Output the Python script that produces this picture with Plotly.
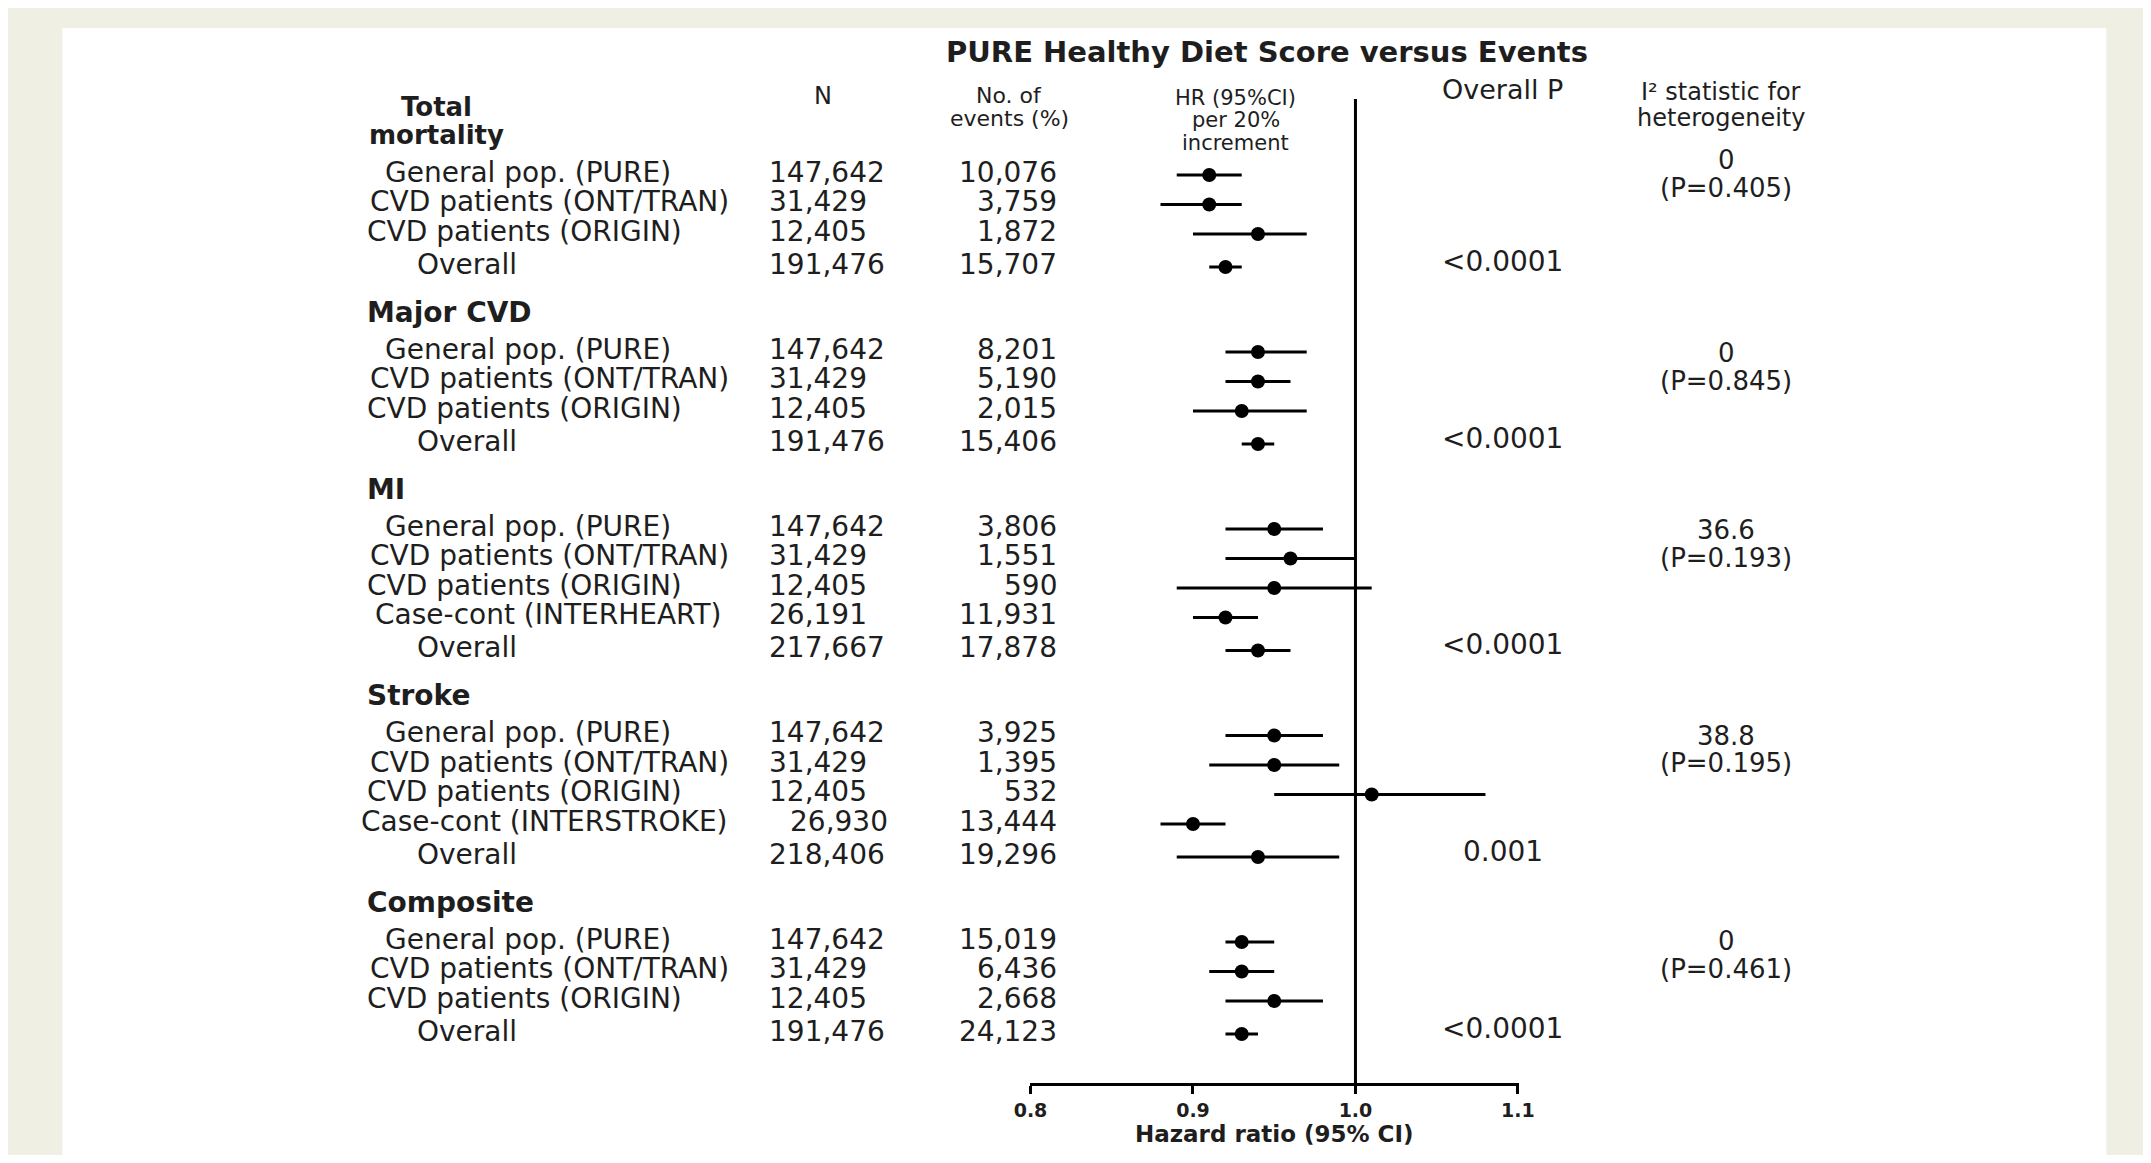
import plotly.graph_objects as go

# reference canvas size (page pixels)
W, H = 2151, 1163
# the html page keeps the browser's default 8px body margin, so the figure is
# sized to fit inside it and positions below are given in page pixels.
OFF = 8
FW, FH = W - 2 * OFF, H - 2 * OFF

# ---------------- data ----------------
outcomes = ["Total\nmortality", "Major CVD", "MI", "Stroke", "Composite"]
row_outcome = [0, 0, 0, 0,
               1, 1, 1, 1,
               2, 2, 2, 2, 2,
               3, 3, 3, 3, 3,
               4, 4, 4, 4]
row_labels = ["General pop. (PURE)", "CVD patients (ONT/TRAN)", "CVD patients (ORIGIN)", "Overall",
              "General pop. (PURE)", "CVD patients (ONT/TRAN)", "CVD patients (ORIGIN)", "Overall",
              "General pop. (PURE)", "CVD patients (ONT/TRAN)", "CVD patients (ORIGIN)", "Case-cont (INTERHEART)", "Overall",
              "General pop. (PURE)", "CVD patients (ONT/TRAN)", "CVD patients (ORIGIN)", "Case-cont (INTERSTROKE)", "Overall",
              "General pop. (PURE)", "CVD patients (ONT/TRAN)", "CVD patients (ORIGIN)", "Overall"]
n_values = ["147,642", "31,429", "12,405", "191,476",
            "147,642", "31,429", "12,405", "191,476",
            "147,642", "31,429", "12,405", "26,191", "217,667",
            "147,642", "31,429", "12,405", "26,930", "218,406",
            "147,642", "31,429", "12,405", "191,476"]
events = ["10,076", "3,759", "1,872", "15,707",
          "8,201", "5,190", "2,015", "15,406",
          "3,806", "1,551", "590", "11,931", "17,878",
          "3,925", "1,395", "532", "13,444", "19,296",
          "15,019", "6,436", "2,668", "24,123"]
hr = [0.91, 0.91, 0.94, 0.92,
      0.94, 0.94, 0.93, 0.94,
      0.95, 0.96, 0.95, 0.92, 0.94,
      0.95, 0.95, 1.01, 0.90, 0.94,
      0.93, 0.93, 0.95, 0.93]
ci_low = [0.89, 0.88, 0.90, 0.91,
          0.92, 0.92, 0.90, 0.93,
          0.92, 0.92, 0.89, 0.90, 0.92,
          0.92, 0.91, 0.95, 0.88, 0.89,
          0.92, 0.91, 0.92, 0.92]
ci_high = [0.93, 0.93, 0.97, 0.93,
           0.97, 0.96, 0.97, 0.95,
           0.98, 1.00, 1.01, 0.94, 0.96,
           0.98, 0.99, 1.08, 0.92, 0.99,
           0.95, 0.95, 0.98, 0.94]
overall_p = ["<0.0001", "<0.0001", "<0.0001", "0.001", "<0.0001"]
i2_values = ["0", "0", "36.6", "38.8", "0"]
i2_pvalues = ["(P=0.405)", "(P=0.845)", "(P=0.193)", "(P=0.195)", "(P=0.461)"]
x_ticks = [0.8, 0.9, 1.0, 1.1]
x_tick_labels = ["0.8", "0.9", "1.0", "1.1"]
title_text = "PURE Healthy Diet Score versus Events"
axis_title = "Hazard ratio (95% CI)"
col_n = ["N"]
col_events = ["No. of", "events (%)"]
col_hr = ["HR (95%CI)", "per 20%", "increment"]
col_p = ["Overall P"]
col_i2 = ["I² statistic for", "heterogeneity"]

# ---------------- layout (page pixel positions) ----------------
FONT = "DejaVu Sans"
TXT = "#1e1e1e"
BODY = 28

FIRST_ROW = 172
ROW_STEP = 29.5
OVERALL_STEP = 33
GROUP_GAP = 48
HEADER_TO_ROW = 37
DOT_DY = 3

row_y = []
header_y = []
y = FIRST_ROW
for i, oc in enumerate(row_outcome):
    if i == 0:
        header_y.append(FIRST_ROW - HEADER_TO_ROW)
        y = FIRST_ROW
    elif oc != row_outcome[i - 1]:
        hy = y + GROUP_GAP
        header_y.append(hy)
        y = hy + HEADER_TO_ROW
    elif row_labels[i] == "Overall":
        y += OVERALL_STEP
    else:
        y += ROW_STEP
    row_y.append(y)

LABEL_CX = {"General pop. (PURE)": 520, "CVD patients (ONT/TRAN)": 541,
            "CVD patients (ORIGIN)": 516, "Case-cont (INTERHEART)": 540,
            "Case-cont (INTERSTROKE)": 536, "Overall": 458}
N_X = 762
N_X_LONG = {"Case-cont (INTERSTROKE)": 784}
EV_X = 1059
P_X = 1509
I2_X = 1736
I2_DY = [-12, 4, 4, 3, 2]

annotations = []


def px_x(x):
    return (x - OFF) / FW


def ann(text, x, y, size=BODY, bold=False, xanchor="left", yanchor="middle"):
    annotations.append(dict(
        text=text, x=px_x(x), xref="paper", y=y, yref="y",
        xanchor=xanchor, yanchor=yanchor, showarrow=False,
        font=dict(family=FONT, size=size, color=TXT, weight="bold" if bold else "normal"),
    ))


def stack(lines, cx, cy, size, step, bold=False):
    n = len(lines)
    for k, ln in enumerate(lines):
        ann(ln, cx, cy + (k - (n - 1) / 2) * step, size=size, bold=bold, xanchor="center")


# title
ann(title_text, 1270, 52, size=29, bold=True, xanchor="center")

# column headers
stack(col_n, 819, 96, 24, 0)
stack(col_events, 1008, 107, 22, 23.5)
stack(col_hr, 1238, 120, 21, 22.5)
stack(col_p, P_X, 89, 27, 0)
stack(col_i2, 1731, 104.5, 24, 26)

# outcome headers
for g, name in enumerate(outcomes):
    lines = name.split("\n")
    if len(lines) > 1:
        stack(lines, 427, header_y[g] - 14, 26, 27.5, bold=True)
    else:
        ann(name, 354, header_y[g], bold=True)

# rows
for i, lab in enumerate(row_labels):
    yy = row_y[i]
    ann(lab, LABEL_CX[lab], yy, xanchor="center")
    ann(n_values[i], N_X_LONG.get(lab, N_X), yy)
    ann(events[i], EV_X, yy, xanchor="right")

# per-outcome statistics
for g in range(len(outcomes)):
    idx = [i for i, oc in enumerate(row_outcome) if oc == g]
    ov = [i for i in idx if row_labels[i] == "Overall"][0]
    ann(overall_p[g], P_X, row_y[ov] - 3, xanchor="center")
    first = row_y[idx[0]] + I2_DY[g]
    stack([i2_values[g], i2_pvalues[g]], I2_X, first + 13.75, 26, 27.5)

# ---------------- figure ----------------
fig = go.Figure()
fig.add_trace(go.Scatter(
    x=hr,
    y=[v + DOT_DY for v in row_y],
    mode="markers",
    marker=dict(size=14, color="black", symbol="circle"),
    error_x=dict(
        type="data", symmetric=False,
        array=[h - m for h, m in zip(ci_high, hr)],
        arrayminus=[m - l for m, l in zip(hr, ci_low)],
        width=0, thickness=3, color="black",
    ),
    showlegend=False, hoverinfo="skip",
))

X0, X1 = 1029, 1525.5
AXIS_Y = 1084

fig.update_layout(
    width=FW, height=FH,
    margin=dict(l=0, r=0, t=0, b=0),
    paper_bgcolor="#efefe4",
    plot_bgcolor="rgba(0,0,0,0)",
    showlegend=False,
    xaxis=dict(
        domain=[px_x(X0), px_x(X1)],
        range=[0.7995, 1.1005],
        anchor="free", position=1 - (AXIS_Y - OFF) / FH,
        showline=True, linecolor="black", linewidth=2.5,
        ticks="outside", ticklen=8, tickwidth=2.5, tickcolor="black",
        tickvals=x_ticks, ticktext=x_tick_labels,
        tickfont=dict(family=FONT, size=19, color=TXT, weight="bold"),
        showgrid=False, zeroline=False,
        title=dict(text=axis_title, standoff=4,
                   font=dict(family=FONT, size=23, color=TXT, weight="bold")),
    ),
    yaxis=dict(domain=[0, 1], range=[OFF + FH, OFF], visible=False),
    annotations=annotations,
    shapes=[
        dict(type="rect", xref="paper", yref="paper",
             x0=px_x(47), x1=px_x(2122),
             y0=max(0, 1 - (1159 - OFF) / FH), y1=1 - (28 - OFF) / FH,
             fillcolor="white", line=dict(width=0), layer="below"),
        dict(type="line", xref="x", yref="y", x0=1.0, x1=1.0, y0=99, y1=AXIS_Y,
             line=dict(color="black", width=3)),
    ],
)

fig.write_html("out.html")
